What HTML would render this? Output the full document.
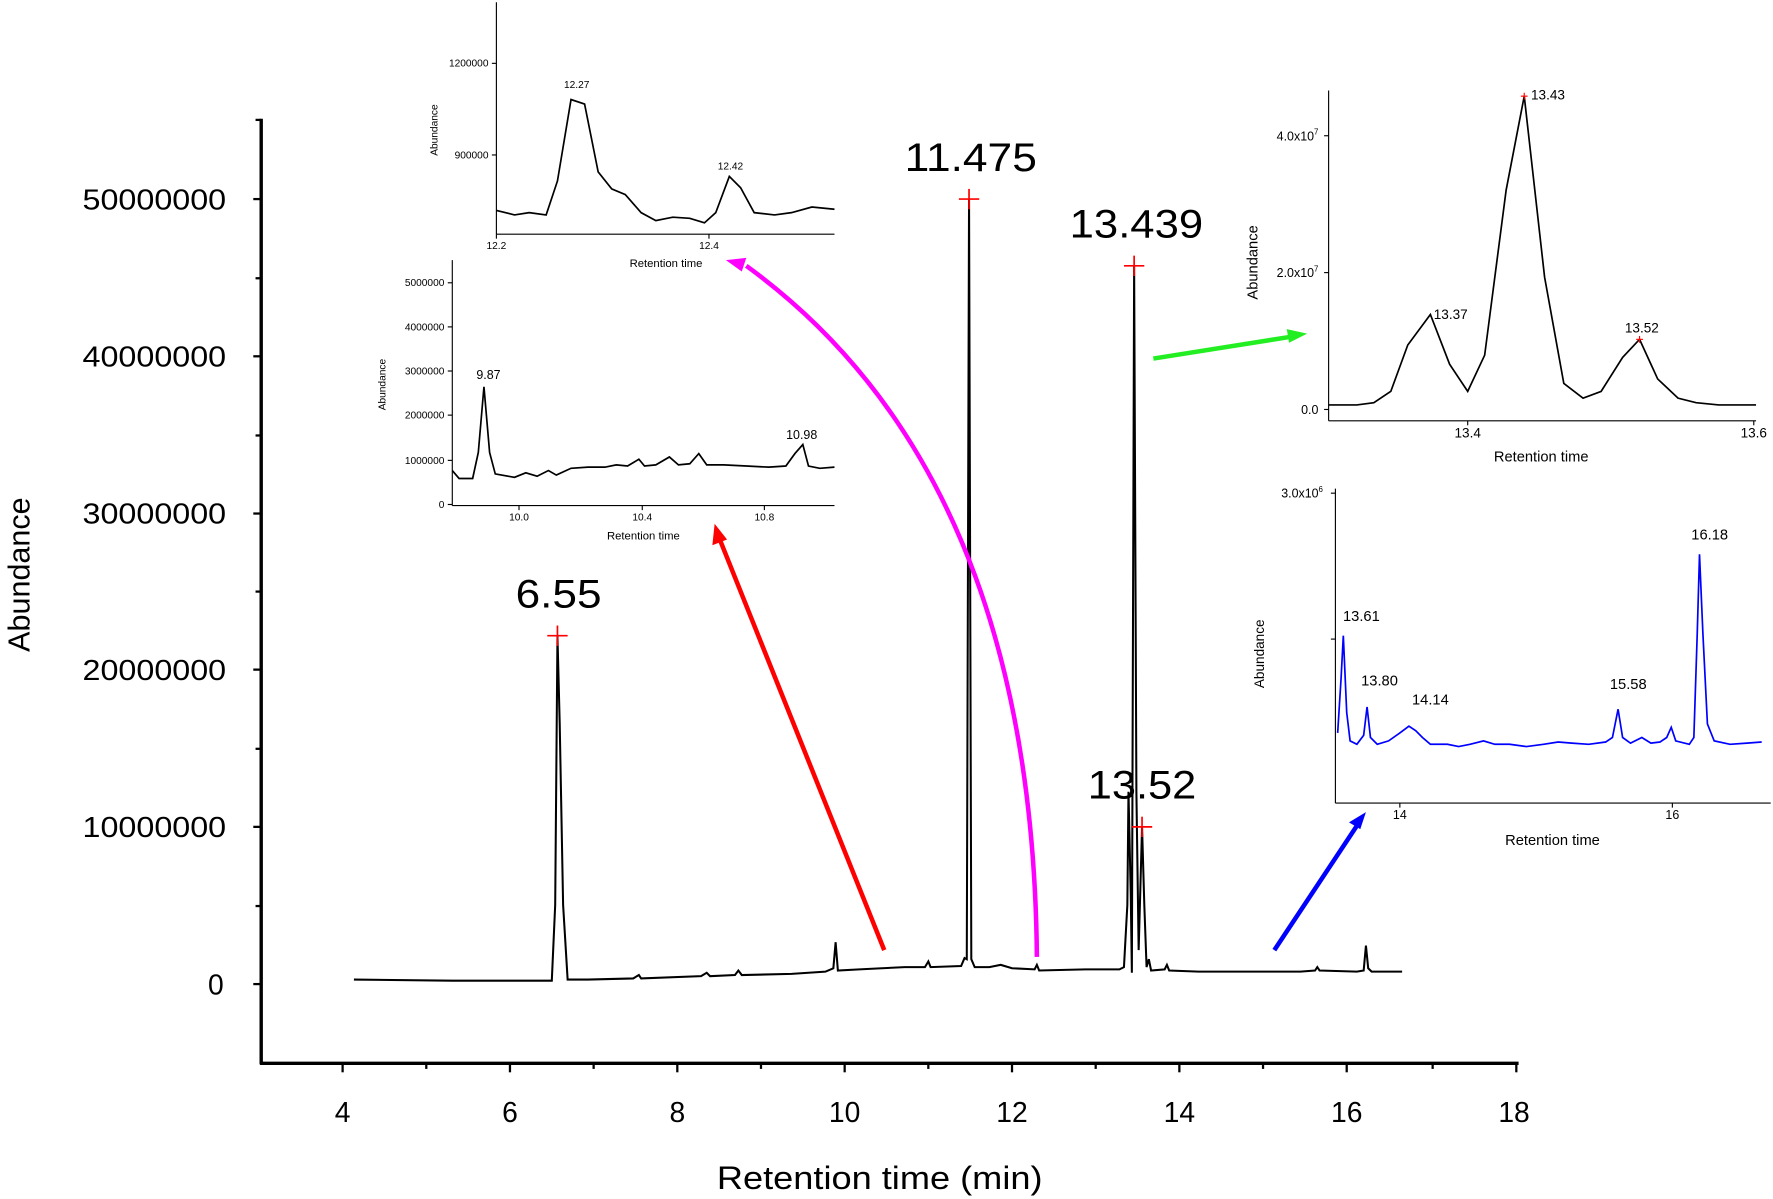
<!DOCTYPE html>
<html><head><meta charset="utf-8"><style>
html,body{margin:0;padding:0;background:#fff;}
svg{display:block;}
text{font-family:"Liberation Sans",Arial,sans-serif;}
</style></head><body>
<svg width="1773" height="1199" viewBox="0 0 1568 1060" preserveAspectRatio="none" xmlns="http://www.w3.org/2000/svg">
<rect width="1568" height="1060" fill="#fff"/>
<g stroke="#000" stroke-width="3" fill="none">
<line x1="231" y1="105" x2="231" y2="941"/>
<line x1="230" y1="940" x2="1343" y2="940"/>
</g>
<g stroke="#000" stroke-width="2">
<line x1="224" y1="176" x2="231" y2="176"/><line x1="224" y1="315" x2="231" y2="315"/><line x1="224" y1="454" x2="231" y2="454"/><line x1="224" y1="592" x2="231" y2="592"/><line x1="224" y1="731" x2="231" y2="731"/><line x1="224" y1="870" x2="231" y2="870"/>
<line x1="226" y1="246" x2="231" y2="246"/><line x1="226" y1="385" x2="231" y2="385"/><line x1="226" y1="523" x2="231" y2="523"/><line x1="226" y1="662" x2="231" y2="662"/><line x1="226" y1="801" x2="231" y2="801"/><line x1="226" y1="106" x2="231" y2="106"/>
<line x1="303" y1="940" x2="303" y2="948"/><line x1="451" y1="940" x2="451" y2="948"/><line x1="599" y1="940" x2="599" y2="948"/><line x1="747" y1="940" x2="747" y2="948"/><line x1="895" y1="940" x2="895" y2="948"/><line x1="1043" y1="940" x2="1043" y2="948"/><line x1="1191" y1="940" x2="1191" y2="948"/><line x1="1341" y1="940" x2="1341" y2="948"/>
<line x1="377" y1="940" x2="377" y2="945"/><line x1="525" y1="940" x2="525" y2="945"/><line x1="673" y1="940" x2="673" y2="945"/><line x1="821" y1="940" x2="821" y2="945"/><line x1="969" y1="940" x2="969" y2="945"/><line x1="1117" y1="940" x2="1117" y2="945"/><line x1="1267" y1="940" x2="1267" y2="945"/>
</g>
<g font-size="25">
<text x="73" y="185" textLength="127" lengthAdjust="spacingAndGlyphs">50000000</text><text x="73" y="324" textLength="127" lengthAdjust="spacingAndGlyphs">40000000</text><text x="73" y="463" textLength="127" lengthAdjust="spacingAndGlyphs">30000000</text><text x="73" y="601" textLength="127" lengthAdjust="spacingAndGlyphs">20000000</text><text x="73" y="740" textLength="127" lengthAdjust="spacingAndGlyphs">10000000</text><text x="184" y="879">0</text>
</g>
<g font-size="25" text-anchor="middle">
<text x="303" y="992">4</text><text x="451" y="992">6</text><text x="599" y="992">8</text><text x="747" y="992">10</text><text x="895" y="992">12</text><text x="1043" y="992">14</text><text x="1191" y="992">16</text><text x="1339" y="992">18</text>
</g>
<text x="634" y="1051" font-size="29" textLength="288" lengthAdjust="spacingAndGlyphs">Retention time (min)</text>
<text transform="translate(26,508) rotate(-90)" font-size="27" text-anchor="middle">Abundance</text>
<polyline fill="none" stroke="#000" stroke-width="1.8" points="313,866 400,867 450,867 488,867 491,800 493,562 495,640 498,800 502,866 520,866 560,865 565,862 567,865 620,863 625,860 628,863 650,862 653,858 656,862 700,861 730,859 737,856 739,833 741,858 760,857 780,856 800,855 818,855 821,850 823,855 850,854 853,847 855,848 857,176 859,848 862,855 875,855 885,853 895,856 915,857 917,853 919,858 960,857 990,857 994,855 997,800 998,700 1000,790 1001,860 1003,235 1005,700 1007,840 1010,731 1012,800 1014,855 1016,848 1018,858 1030,857 1032,853 1034,858 1060,859 1100,859 1150,859 1163,858 1165,855 1167,858 1200,859 1206,858 1208,836 1210,856 1213,859 1240,859"/>
<g stroke="#f00" stroke-width="1.5">
<line x1="484" y1="562" x2="502" y2="562"/><line x1="493" y1="553" x2="493" y2="571"/>
<line x1="848" y1="176" x2="866" y2="176"/><line x1="857" y1="167" x2="857" y2="185"/>
<line x1="994" y1="235" x2="1012" y2="235"/><line x1="1003" y1="226" x2="1003" y2="244"/>
<line x1="1001" y1="731" x2="1019" y2="731"/><line x1="1010" y1="722" x2="1010" y2="740"/>
</g>
<g font-size="35">
<text x="456" y="537" textLength="76" lengthAdjust="spacingAndGlyphs">6.55</text><text x="800" y="151" textLength="117" lengthAdjust="spacingAndGlyphs">11.475</text><text x="946" y="210" textLength="118" lengthAdjust="spacingAndGlyphs">13.439</text><text x="962" y="706" textLength="96" lengthAdjust="spacingAndGlyphs">13.52</text>
</g>
<line x1="782" y1="840" x2="637" y2="478" stroke="#f00" stroke-width="4"/>
<polygon points="632,463 630,482 643,477" fill="#f00"/>
<path d="M917,846 C915,620 860,380 660,235" fill="none" stroke="#f0f" stroke-width="4"/>
<polygon points="642,230 660,228 656,240" fill="#f0f"/>
<line x1="1020" y1="317" x2="1140" y2="298" stroke="#2e2" stroke-width="4"/>
<polygon points="1156,295 1138,291 1140,303" fill="#2e2"/>
<line x1="1127" y1="840" x2="1200" y2="730" stroke="#00f" stroke-width="4"/>
<polygon points="1208,718 1193,727 1203,733" fill="#00f"/>
<g stroke="#000" stroke-width="1" fill="none">
<line x1="439" y1="2" x2="439" y2="207"/><line x1="439" y1="207" x2="738" y2="207"/>
<line x1="435" y1="56" x2="439" y2="56"/><line x1="435" y1="137" x2="439" y2="137"/>
<line x1="439" y1="207" x2="439" y2="211"/><line x1="627" y1="207" x2="627" y2="211"/>
<polyline stroke-width="1.5" points="439,186 455,190 468,188 483,190 493,160 505,88 517,92 529,152 541,167 553,172 567,188 580,195 595,192 610,193 623,197 633,188 645,156 655,166 667,188 685,190 700,188 718,183 738,185"/>
</g>
<g font-size="9" text-anchor="end"><text x="432" y="59">1200000</text><text x="432" y="140">900000</text></g>
<g font-size="9" text-anchor="middle"><text x="439" y="220">12.2</text><text x="627" y="220">12.4</text><text x="510" y="78">12.27</text><text x="646" y="150">12.42</text><text x="589" y="236" font-size="10">Retention time</text></g>
<text transform="translate(387,115) rotate(-90)" font-size="9" text-anchor="middle">Abundance</text>
<g stroke="#000" stroke-width="1" fill="none">
<line x1="400" y1="230" x2="400" y2="447"/><line x1="400" y1="447" x2="738" y2="447"/>
<line x1="396" y1="250" x2="400" y2="250"/><line x1="396" y1="289" x2="400" y2="289"/><line x1="396" y1="328" x2="400" y2="328"/><line x1="396" y1="367" x2="400" y2="367"/><line x1="396" y1="407" x2="400" y2="407"/><line x1="396" y1="446" x2="400" y2="446"/>
<line x1="459" y1="447" x2="459" y2="451"/><line x1="568" y1="447" x2="568" y2="451"/><line x1="676" y1="447" x2="676" y2="451"/>
<polyline stroke-width="1.5" points="400,416 406,423 418,423 423,400 428,342 433,400 438,419 455,422 465,418 475,421 485,416 492,420 505,414 520,413 535,413 545,411 555,412 565,406 570,412 580,411 592,404 600,411 610,410 618,401 625,411 640,411 660,412 680,413 695,412 703,401 710,393 715,412 725,414 738,413"/>
</g>
<g font-size="9" text-anchor="end"><text x="393" y="253">5000000</text><text x="393" y="292">4000000</text><text x="393" y="331">3000000</text><text x="393" y="370">2000000</text><text x="393" y="410">1000000</text><text x="393" y="449">0</text></g>
<g font-size="9" text-anchor="middle"><text x="459" y="460">10.0</text><text x="568" y="460">10.4</text><text x="676" y="460">10.8</text><text x="432" y="335" font-size="11">9.87</text><text x="709" y="388" font-size="11">10.98</text><text x="569" y="477" font-size="10">Retention time</text></g>
<text transform="translate(341,340) rotate(-90)" font-size="9" text-anchor="middle">Abundance</text>
<g stroke="#000" stroke-width="1" fill="none">
<line x1="1175" y1="80" x2="1175" y2="372"/><line x1="1175" y1="372" x2="1553" y2="372"/>
<line x1="1171" y1="362" x2="1175" y2="362"/><line x1="1171" y1="241" x2="1175" y2="241"/><line x1="1171" y1="120" x2="1175" y2="120"/>
<line x1="1298" y1="372" x2="1298" y2="376"/><line x1="1551" y1="372" x2="1551" y2="376"/>
<polyline stroke-width="1.5" points="1175,358 1200,358 1215,356 1230,346 1245,305 1265,278 1282,322 1298,346 1313,314 1332,168 1348,85 1366,245 1383,339 1400,352 1416,346 1435,316 1450,300 1466,335 1484,352 1500,356 1520,358 1553,358"/>
</g>
<g stroke="#f00" stroke-width="1"><line x1="1345" y1="85" x2="1351" y2="85"/><line x1="1348" y1="82" x2="1348" y2="88"/><line x1="1447" y1="300" x2="1453" y2="300"/><line x1="1450" y1="297" x2="1450" y2="303"/></g>
<g font-size="11" text-anchor="end"><text x="1166" y="366">0.0</text><text x="1166" y="245">2.0x10<tspan font-size="7" dy="-5">7</tspan></text><text x="1166" y="124">4.0x10<tspan font-size="7" dy="-5">7</tspan></text></g>
<g font-size="12" text-anchor="middle"><text x="1298" y="387">13.4</text><text x="1551" y="387">13.6</text><text x="1369" y="88">13.43</text><text x="1283" y="282">13.37</text><text x="1452" y="294">13.52</text><text x="1363" y="408" font-size="13">Retention time</text></g>
<text transform="translate(1112,232) rotate(-90)" font-size="13" text-anchor="middle">Abundance</text>
<g stroke="#000" stroke-width="1" fill="none">
<line x1="1181" y1="432" x2="1181" y2="710"/><line x1="1181" y1="710" x2="1566" y2="710"/>
<line x1="1177" y1="436" x2="1181" y2="436"/><line x1="1177" y1="565" x2="1181" y2="565"/>
<line x1="1238" y1="710" x2="1238" y2="714"/><line x1="1479" y1="710" x2="1479" y2="714"/>
</g>
<polyline fill="none" stroke="#00f" stroke-width="1.5" points="1183,648 1186,600 1188,562 1191,630 1194,655 1200,658 1206,650 1209,625 1212,652 1218,658 1228,655 1238,648 1246,642 1252,646 1258,652 1265,658 1280,658 1290,660 1300,658 1312,655 1322,658 1335,658 1350,660 1365,658 1378,656 1390,657 1405,658 1420,656 1426,652 1431,627 1435,652 1442,657 1452,652 1460,657 1468,656 1474,652 1478,643 1482,655 1494,658 1498,652 1501,560 1503,490 1506,560 1510,640 1516,655 1530,658 1545,657 1558,656"/>
<g font-size="11" text-anchor="end"><text x="1170" y="440">3.0x10<tspan font-size="7" dy="-5">6</tspan></text></g>
<g font-size="11" text-anchor="middle"><text x="1238" y="724">14</text><text x="1479" y="724">16</text></g>
<g font-size="13" text-anchor="middle"><text x="1204" y="549">13.61</text><text x="1220" y="606">13.80</text><text x="1265" y="623">14.14</text><text x="1440" y="609">15.58</text><text x="1512" y="477">16.18</text><text x="1373" y="747">Retention time</text></g>
<text transform="translate(1118,578) rotate(-90)" font-size="12" text-anchor="middle">Abundance</text>
</svg>
</body></html>
